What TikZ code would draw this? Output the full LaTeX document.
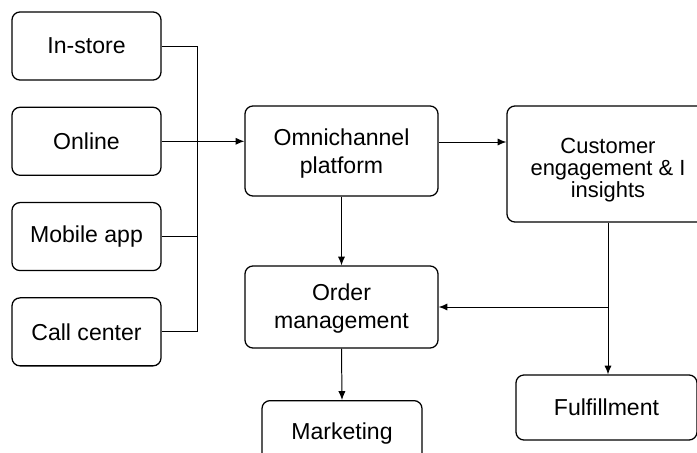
\documentclass[tikz,border=0pt]{standalone}
\usepackage{fontspec}
\setmainfont{Liberation Sans}
\usepackage{tikz}
\usetikzlibrary{arrows.meta, positioning, calc}

\begin{document}
\begin{tikzpicture}[
    x=0.025cm, y=-0.025cm,
    node distance=0.65cm,
    channel/.style={rectangle, draw, rounded corners=0.2cm, line width=0.9pt, minimum width=3.725cm, minimum height=1.7cm, font=\fontsize{16.4}{19.5}\selectfont, align=center},
    block/.style={rectangle, draw, rounded corners=0.2cm, line width=0.9pt, font=\fontsize{16.4}{19.5}\selectfont, align=center, inner sep=0pt},
    link/.style={line width=0.7pt},
    arrow/.style={-{Latex[length=2.2mm, width=1.8mm]}, line width=0.7pt}
]
\useasboundingbox (0,0) rectangle (697,453);

% Channels
\node[channel] (instore) at (86.5,46) {In-store};
\node[channel, below=of instore] (online) {Online};
\node[channel, below=of online] (mobile) {Mobile app};
\node[channel, below=of mobile] (callcenter) {Call center};

% Main blocks
\node[block, minimum width=4.825cm, minimum height=2.25cm] (omni) at (341.5,151) {\rule{0pt}{0.55cm}Omnichannel\\platform};
\node[block, minimum width=4.825cm, minimum height=2.05cm] (order) at (341.5,307) {\rule{0pt}{0.5cm}Order\\management};
\node[block, minimum width=4cm, minimum height=1.65cm, anchor=north] (marketing) at (342,400) {Marketing};
\node[block, minimum width=5.05cm, minimum height=2.9cm, font=\fontsize{15.6}{15.8}\selectfont] (cust) at (608,164) {\rule{0pt}{0.7cm}Customer\\engagement \& I\\insights};
\node[block, minimum width=4.525cm, minimum height=1.625cm] (fulfil) at (606.5,407.5) {Fulfillment};

% Channel bus
\coordinate (bus) at (197,46);
\draw[link] (instore.east) -- (instore.east -| bus) -- (callcenter.east -| bus) -- (callcenter.east);
\draw[link] (mobile.east) -- (mobile.east -| bus);
\draw[arrow] (online.east) -- (online.east -| omni.west);

% Platform flows
\draw[arrow] (omni.east |- 0,142) -- (cust.west |- 0,142);
\draw[arrow] (omni.south) -- (order.north);
\draw[arrow] (order.south) -- (marketing.north);

% Engagement feedback
\coordinate (split) at (cust.south |- order.east);
\draw[arrow] (cust.south) -- (cust.south |- fulfil.north);
\draw[arrow] (split) -- (order.east);

\end{tikzpicture}
\end{document}
